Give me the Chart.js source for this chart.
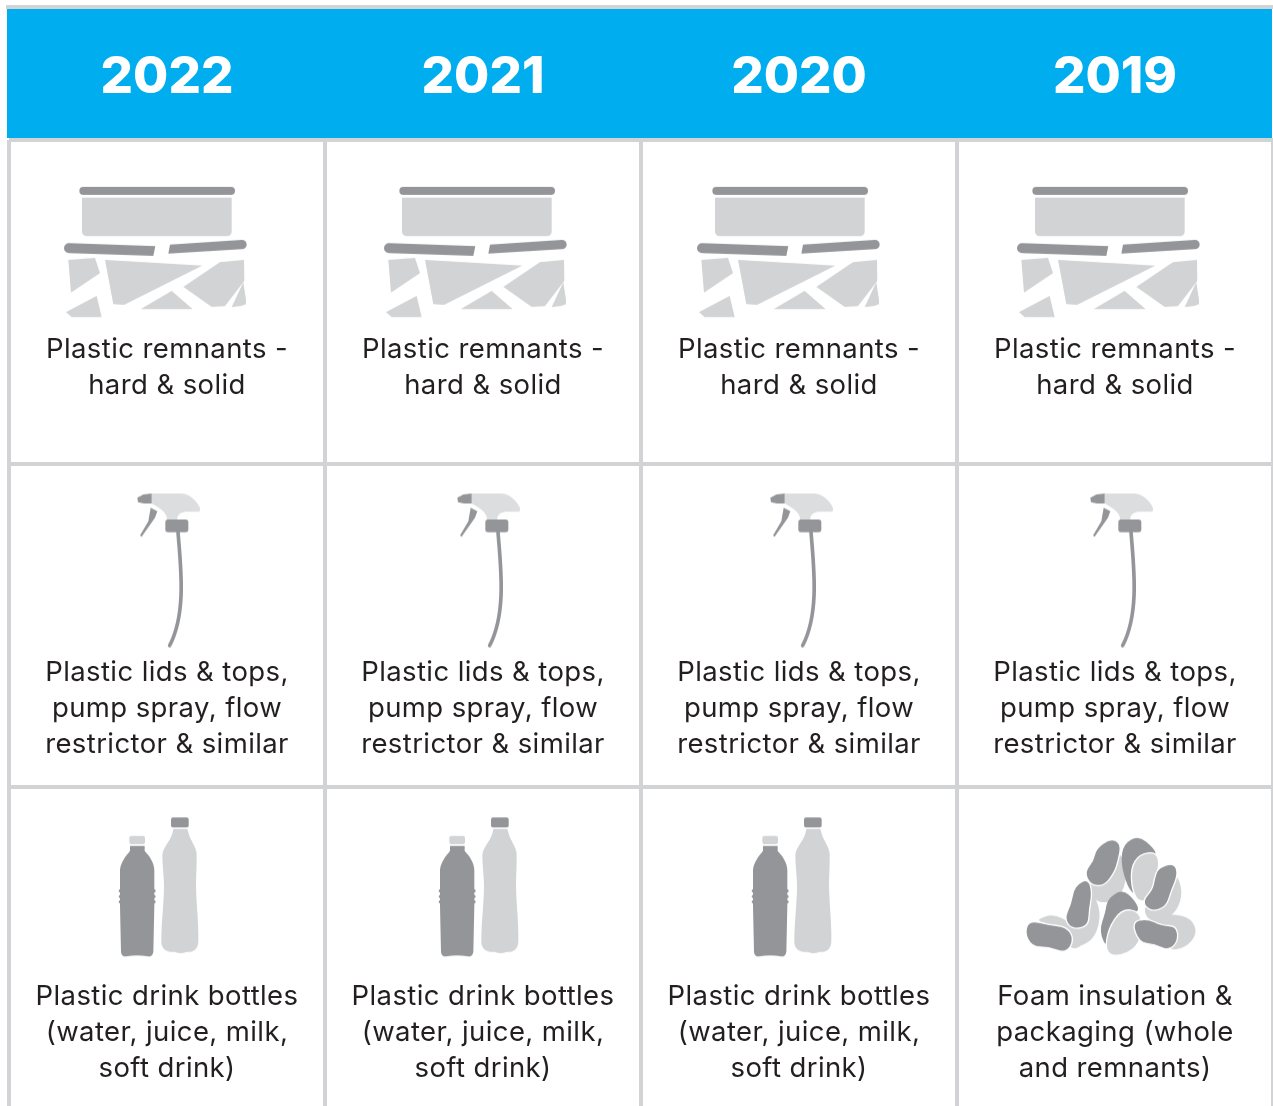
<!DOCTYPE html>
<html>
<head>
<meta charset="utf-8">
<title>Top plastic items by year</title>
<script src="https://cdn.jsdelivr.net/npm/chart.js@4"></script>
<style>
html, body { margin: 0; padding: 0; background: #fff; overflow: hidden; width: 1273px; height: 1106px; }
canvas { display: block; }
</style>
</head>
<body>
<!-- canvas runs past the window, the table is cut off at the bottom and right edge -->
<canvas id="grid" width="1278" height="1116"></canvas>
<script>
var years = ['2022', '2021', '2020', '2019'];
var rows = ['First', 'Second', 'Third'];

var firstLabels = [
    ['Plastic remnants -', 'hard & solid'],
    ['Plastic remnants -', 'hard & solid'],
    ['Plastic remnants -', 'hard & solid'],
    ['Plastic remnants -', 'hard & solid']
];
var secondLabels = [
    ['Plastic lids & tops,', 'pump spray, flow', 'restrictor & similar'],
    ['Plastic lids & tops,', 'pump spray, flow', 'restrictor & similar'],
    ['Plastic lids & tops,', 'pump spray, flow', 'restrictor & similar'],
    ['Plastic lids & tops,', 'pump spray, flow', 'restrictor & similar']
];
var thirdLabels = [
    ['Plastic drink bottles', '(water, juice, milk,', 'soft drink)'],
    ['Plastic drink bottles', '(water, juice, milk,', 'soft drink)'],
    ['Plastic drink bottles', '(water, juice, milk,', 'soft drink)'],
    ['Foam insulation &', 'packaging (whole', 'and remnants)']
];

var firstIcons = ['remnants', 'remnants', 'remnants', 'remnants'];
var secondIcons = ['spray', 'spray', 'spray', 'spray'];
var thirdIcons = ['bottles', 'bottles', 'bottles', 'foam'];

var BLUE = '#00aeef';
var LINE = '#d1d3d4';
var DARK = '#939598';
var LIGHT = '#d1d3d4';
var TEXT = '#231f20';
var FONT = 'Inter, sans-serif';

// the icons are not centred in their cells, each column is a few px off
var columnNudge = [0, 4, 1, 5];

function poly(ctx, pts, color) {
    ctx.fillStyle = color;
    ctx.beginPath();
    for (var i = 0; i < pts.length; i++) {
        if (i == 0) ctx.moveTo(pts[i][0], pts[i][1]);
        else ctx.lineTo(pts[i][0], pts[i][1]);
    }
    ctx.closePath();
    ctx.fill();
}

function rounded(ctx, x, y, w, h, r, color) {
    ctx.fillStyle = color;
    ctx.beginPath();
    ctx.roundRect(x, y, w, h, r);
    ctx.fill();
}

function blob(ctx, raw, color, outline) {
    // smoothing eats the corners so push the points out from the middle first
    var n = raw.length, cx = 0, cy = 0, pts = [];
    for (var k = 0; k < n; k++) { cx += raw[k][0] / n; cy += raw[k][1] / n; }
    for (k = 0; k < n; k++) {
        pts.push([cx + (raw[k][0] - cx) * 1.12, cy + (raw[k][1] - cy) * 1.12]);
    }
    ctx.beginPath();
    ctx.moveTo((pts[n - 1][0] + pts[0][0]) / 2, (pts[n - 1][1] + pts[0][1]) / 2);
    for (var i = 0; i < n; i++) {
        var next = pts[(i + 1) % n];
        ctx.quadraticCurveTo(pts[i][0], pts[i][1], (pts[i][0] + next[0]) / 2, (pts[i][1] + next[1]) / 2);
    }
    ctx.closePath();
    ctx.fillStyle = color;
    ctx.fill();
    if (outline) {
        ctx.strokeStyle = '#fff';
        ctx.lineWidth = 4;
        ctx.stroke();
    }
}

// icon paths are in 3x units, measured off the zoomed crops
function drawRemnants(ctx) {
    ctx.translate(50 - 9, 175 - 140);
    ctx.scale(1 / 3, 1 / 3);
    rounded(ctx, 88, 36, 467, 24, 12, DARK);
    rounded(ctx, 96, 68, 449, 116, [0, 0, 14, 14], LIGHT);
    ctx.fillStyle = DARK;
    ctx.beginPath();
    ctx.moveTo(57, 205);
    ctx.lineTo(316, 214);
    ctx.lineTo(310, 243);
    ctx.lineTo(57, 235);
    ctx.arc(57, 220, 15, Math.PI / 2, Math.PI * 1.5);
    ctx.closePath();
    ctx.fill();
    ctx.beginPath();
    ctx.moveTo(360, 209);
    ctx.lineTo(576, 195);
    ctx.arc(576, 209, 14, -Math.PI / 2, Math.PI / 2);
    ctx.lineTo(355, 236);
    ctx.closePath();
    ctx.fill();
    poly(ctx, [[55, 255], [135, 249], [150, 295], [63, 353]], LIGHT);
    poly(ctx, [[165, 255], [457, 272], [222, 390], [190, 388]], LIGHT);
    poly(ctx, [[400, 336], [510, 262], [582, 255], [583, 318], [525, 394], [485, 396]], LIGHT);
    poly(ctx, [[272, 403], [365, 348], [428, 403]], LIGHT);
    poly(ctx, [[48, 412], [140, 363], [155, 427], [65, 427]], LIGHT);
    poly(ctx, [[545, 397], [580, 322], [588, 375], [588, 388], [575, 393]], LIGHT);
}

function drawSpray(ctx) {
    ctx.translate(120 - 9, 480 - 464);
    ctx.scale(1 / 3, 1 / 3);
    ctx.fillStyle = '#dcddde';
    ctx.beginPath();
    ctx.moveTo(95, 42);
    ctx.lineTo(185, 42);
    ctx.bezierCurveTo(210, 44, 232, 65, 241, 88);
    ctx.lineTo(238, 97);
    ctx.lineTo(195, 97);
    ctx.bezierCurveTo(180, 100, 170, 108, 172, 122);
    ctx.lineTo(142, 122);
    ctx.bezierCurveTo(142, 100, 120, 85, 95, 72);
    ctx.closePath();
    ctx.fill();
    poly(ctx, [[52, 55], [70, 45], [95, 42], [95, 72], [72, 72], [54, 68]], DARK);
    poly(ctx, [[92, 85], [112, 95], [105, 115], [65, 172], [60, 168], [85, 125]], DARK);
    rounded(ctx, 136, 120, 69, 38, 8, DARK);
    ctx.strokeStyle = DARK;
    ctx.lineWidth = 11;
    ctx.lineCap = 'round';
    ctx.beginPath();
    ctx.moveTo(174, 158);
    ctx.bezierCurveTo(182, 260, 200, 400, 149, 498);
    ctx.stroke();
}

function drawBottles(ctx) {
    ctx.translate(100 - 9, 800 - 788);
    ctx.scale(1 / 3, 1 / 3);
    rounded(ctx, 88, 110, 47, 25, 6, LIGHT);
    ctx.fillStyle = DARK;
    ctx.beginPath();
    ctx.moveTo(90, 140);
    ctx.lineTo(134, 140);
    ctx.lineTo(134, 155);
    ctx.bezierCurveTo(150, 172, 162, 190, 163, 212);
    ctx.lineTo(163, 320);
    ctx.lineTo(160, 458);
    ctx.quadraticCurveTo(158, 472, 145, 472);
    ctx.quadraticCurveTo(112, 466, 78, 472);
    ctx.quadraticCurveTo(64, 472, 63, 458);
    ctx.lineTo(60, 320);
    ctx.lineTo(60, 212);
    ctx.bezierCurveTo(62, 190, 76, 172, 90, 155);
    ctx.closePath();
    ctx.fill();
    var ridges = [275, 292, 308];
    for (var i = 0; i < ridges.length; i++) {
        ctx.beginPath();
        ctx.arc(61, ridges[i], 5, 0, Math.PI * 2);
        ctx.arc(162, ridges[i], 5, 0, Math.PI * 2);
        ctx.fill();
    }
    rounded(ctx, 213, 55, 53, 30, 6, DARK);
    ctx.fillStyle = LIGHT;
    ctx.beginPath();
    ctx.moveTo(220, 89);
    ctx.lineTo(262, 89);
    ctx.lineTo(265, 100);
    ctx.bezierCurveTo(270, 125, 292, 145, 290, 170);
    ctx.bezierCurveTo(290, 210, 288, 240, 288, 260);
    ctx.bezierCurveTo(290, 330, 296, 370, 295, 425);
    ctx.bezierCurveTo(295, 450, 280, 460, 260, 458);
    ctx.quadraticCurveTo(240, 466, 225, 458);
    ctx.bezierCurveTo(200, 460, 183, 450, 184, 425);
    ctx.bezierCurveTo(184, 370, 192, 310, 192, 260);
    ctx.bezierCurveTo(192, 230, 187, 200, 187, 170);
    ctx.bezierCurveTo(187, 145, 210, 130, 218, 100);
    ctx.closePath();
    ctx.fill();
}

function drawFoam(ctx) {
    ctx.translate(1015 - 957, 830 - 788);
    ctx.scale(1 / 3, 1 / 3);
    blob(ctx, [[305, 70], [332, 120], [320, 190], [275, 216], [238, 205], [222, 150], [270, 160], [300, 120]], LIGHT);
    blob(ctx, [[245, 62], [285, 34], [314, 50], [305, 95], [296, 125], [268, 164], [230, 160], [214, 125], [238, 95]], DARK, true);
    blob(ctx, [[330, 50], [370, 28], [410, 60], [420, 85], [365, 95], [355, 130], [362, 190], [340, 165], [322, 100]], DARK);
    blob(ctx, [[375, 82], [420, 76], [430, 110], [415, 150], [412, 200], [375, 212], [356, 180], [352, 120]], LIGHT, true);
    blob(ctx, [[480, 140], [498, 190], [484, 240], [450, 268], [402, 268], [392, 225], [445, 230], [470, 185]], LIGHT);
    blob(ctx, [[430, 122], [474, 108], [484, 140], [465, 185], [452, 228], [410, 240], [386, 212], [415, 180], [420, 150]], DARK, true);
    blob(ctx, [[225, 190], [254, 250], [238, 322], [190, 348], [155, 345], [165, 290], [215, 285], [225, 240]], LIGHT);
    blob(ctx, [[70, 275], [120, 258], [172, 288], [212, 330], [165, 362], [145, 300], [100, 285]], LIGHT);
    blob(ctx, [[180, 175], [218, 156], [228, 195], [220, 240], [218, 284], [175, 294], [152, 265], [170, 225]], DARK, true);
    blob(ctx, [[50, 278], [100, 290], [150, 296], [170, 330], [148, 368], [100, 350], [55, 350], [36, 310]], DARK, true);
    blob(ctx, [[280, 215], [320, 188], [354, 218], [368, 250], [320, 250], [295, 280], [280, 350], [258, 300], [275, 250]], DARK);
    blob(ctx, [[320, 248], [368, 252], [378, 300], [362, 352], [310, 376], [276, 362], [285, 300]], LIGHT, true);
    blob(ctx, [[400, 268], [472, 258], [524, 272], [540, 312], [508, 350], [460, 358], [480, 320], [470, 292], [430, 285]], LIGHT);
    blob(ctx, [[358, 282], [400, 272], [440, 292], [478, 292], [484, 332], [458, 360], [420, 342], [378, 338]], DARK, true);
}

var iconPainters = {
    remnants: drawRemnants,
    spray: drawSpray,
    bottles: drawBottles,
    foam: drawFoam
};

var iconCache = {};

function getIcon(name, col) {
    var key = name + col;
    if (iconCache[key]) return iconCache[key];
    var c = document.createElement('canvas');
    c.width = 316;
    c.height = 324;
    var ctx = c.getContext('2d');
    // foam only shows up in the last column and was measured there
    if (name != 'foam') ctx.translate(columnNudge[col], 0);
    iconPainters[name](ctx);
    iconCache[key] = c;
    return c;
}

function rowDataset(rowName, icons, labels) {
    var points = [];
    for (var i = 0; i < years.length; i++) {
        points.push({ x: years[i], y: rowName });
    }
    return {
        data: points,
        cellLabels: labels,
        pointStyle: function (c) { return getIcon(icons[c.dataIndex], c.dataIndex); },
        clip: false
    };
}

var headerBand = {
    id: 'headerBand',
    beforeDraw: function (chart) {
        var ctx = chart.ctx;
        var a = chart.chartArea;
        ctx.save();
        ctx.fillStyle = LINE;
        ctx.fillRect(6, 5, a.right - 6, 4);
        ctx.fillStyle = BLUE;
        ctx.fillRect(a.left - 2, 9, a.right - a.left + 1, a.top - 11);
        ctx.restore();
    }
};

var cellText = {
    id: 'cellText',
    afterDatasetsDraw: function (chart) {
        var ctx = chart.ctx;
        ctx.save();
        ctx.fillStyle = TEXT;
        ctx.font = '400 27.5px ' + FONT;
        ctx.textAlign = 'center';
        ctx.textBaseline = 'middle';
        ctx.letterSpacing = '0.4px';
        chart.data.datasets.forEach(function (ds, d) {
            var meta = chart.getDatasetMeta(d);
            ds.cellLabels.forEach(function (lines, i) {
                var el = meta.data[i];
                lines.forEach(function (line, l) {
                    ctx.fillText(line, el.x, el.y + 47.5 + l * 36);
                });
            });
        });
        ctx.restore();
    }
};

var chart = new Chart(document.getElementById('grid'), {
    type: 'scatter',
    data: {
        datasets: [
            rowDataset(rows[0], firstIcons, firstLabels),
            rowDataset(rows[1], secondIcons, secondLabels),
            rowDataset(rows[2], thirdIcons, thirdLabels)
        ]
    },
    options: {
        responsive: false,
        animation: false,
        events: [],
        layout: { padding: { left: 9, top: 5, right: 0, bottom: 0 } },
        plugins: { legend: { display: false }, tooltip: { enabled: false } },
        scales: {
            x: {
                type: 'category',
                labels: years,
                position: 'top',
                offset: true,
                grid: { offset: true, color: LINE, lineWidth: 4, drawTicks: false },
                border: { display: false },
                ticks: {
                    color: '#fff',
                    padding: 32,
                    maxRotation: 0,
                    font: { family: FONT, size: 51, weight: '800' }
                },
                afterFit: function (scale) { scale.height = 135; }
            },
            y: {
                type: 'category',
                labels: rows,
                offset: true,
                grid: { offset: true, color: LINE, lineWidth: 4, drawTicks: false },
                border: { display: false },
                ticks: { display: false },
                afterFit: function (scale) { scale.width = 0; }
            }
        }
    },
    plugins: [headerBand, cellText]
});
</script>
</body>
</html>
